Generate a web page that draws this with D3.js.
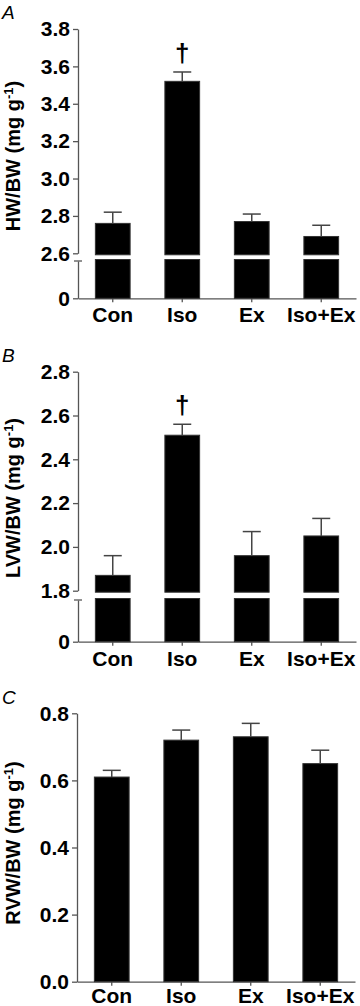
<!DOCTYPE html>
<html>
<head>
<meta charset="utf-8">
<script src="https://cdn.jsdelivr.net/npm/d3@7"></script>
<style>
  body { margin: 0; background: #fff; }
  svg { display: block; }
</style>
</head>
<body>
<script>
// groups
const categories = ['Con', 'Iso', 'Ex', 'Iso+Ex']

// A: heart weight / body weight
const hwMean = [2.76, 3.52, 2.77, 2.69]
const hwSem = [0.06, 0.05, 0.04, 0.06]
const hwTicks = [2.6, 2.8, 3.0, 3.2, 3.4, 3.6, 3.8]

// B: left ventricle weight / body weight
const lvwMean = [1.87, 2.51, 1.96, 2.05]
const lvwSem = [0.09, 0.05, 0.11, 0.08]
const lvwTicks = [1.8, 2.0, 2.2, 2.4, 2.6, 2.8]

// C: right ventricle weight / body weight
const rvwMean = [0.61, 0.72, 0.73, 0.65]
const rvwSem = [0.02, 0.03, 0.04, 0.04]
const rvwTicks = [0.0, 0.2, 0.4, 0.6, 0.8]

// which bars get a dagger
const daggerA = ['Iso']
const daggerB = ['Iso']

const width = 360
const height = 1006
const font = 'Arial, "Liberation Sans", Helvetica, sans-serif'
const axisColor = '#555'

const svg = d3.select('body')
  .append('svg')
  .attr('width', width)
  .attr('height', height)

const panels = [
  { letter: 'A', letterY: 18.5, title: 'HW/BW', titleY: 156, mean: hwMean, sem: hwSem, ticks: hwTicks,
    brk: 2.6, max: 3.8, yTop: 29, yBreak: 253.3, yLow: 261, yZero: 298.3, x0: 78, x1: 356, dagger: daggerA },
  { letter: 'B', letterY: 361.5, title: 'LVW/BW', titleY: 498, mean: lvwMean, sem: lvwSem, ticks: lvwTicks,
    brk: 1.8, max: 2.8, yTop: 371.7, yBreak: 590.7, yLow: 600, yZero: 641.7, x0: 78, x1: 356, dagger: daggerB },
  { letter: 'C', letterY: 703.5, title: 'RVW/BW', titleY: 843, mean: rvwMean, sem: rvwSem, ticks: rvwTicks,
    brk: null, max: 0.8, yTop: 713.3, yZero: 981.7, x0: 77, x1: 355, dagger: [] }
]

function styleAxis(g) {
  g.select('.domain').attr('stroke', axisColor).attr('stroke-width', 1.3)
  g.selectAll('.tick line').attr('stroke', axisColor).attr('stroke-width', 1.3)
  g.selectAll('.tick text')
    .attr('fill', '#000')
    .attr('font-family', font)
    .attr('font-weight', 'bold')
    .attr('font-size', 21)
}

panels.forEach(p => {
  const g = svg.append('g')

  const xScale = d3.scaleBand()
    .domain(categories)
    .range([p.x0, p.x1])
    .paddingInner(0.5)
    .paddingOuter(0.25)

  // upper part of the y axis (or the whole axis when there is no break)
  const yUpper = d3.scaleLinear()
    .domain([p.brk === null ? 0 : p.brk, p.max])
    .range([p.brk === null ? p.yZero : p.yBreak, p.yTop])

  const fmt = d3.format('.1f')

  g.append('g')
    .attr('transform', `translate(${p.x0}, 0)`)
    .call(d3.axisLeft(yUpper).tickValues(p.ticks).tickFormat(fmt).tickSize(5).tickSizeOuter(0).tickPadding(3))
    .call(styleAxis)

  // lower segment below the break
  if (p.brk !== null) {
    const yLower = d3.scaleLinear().domain([0, p.brk]).range([p.yZero, p.yLow])
    const lg = g.append('g')
      .attr('transform', `translate(${p.x0}, 0)`)
      .call(d3.axisLeft(yLower).tickValues([0]).tickFormat(d3.format('d')).tickSize(5).tickSizeOuter(0).tickPadding(3))
      .call(styleAxis)
    lg.append('line')
      .attr('x1', -4).attr('x2', 4)
      .attr('y1', p.yLow).attr('y2', p.yLow)
      .attr('stroke', axisColor).attr('stroke-width', 1.3)
  }

  // x axis
  g.append('g')
    .attr('transform', `translate(0, ${p.yZero})`)
    .call(d3.axisBottom(xScale).tickSize(4).tickSizeOuter(0).tickPadding(p.brk === null ? 2 : 5))
    .call(styleAxis)

  const data = categories.map((c, i) => ({ cat: c, mean: p.mean[i], sem: p.sem[i] }))

  // bars
  const bars = g.append('g')
  if (p.brk === null) {
    bars.selectAll('rect')
      .data(data)
      .enter()
      .append('rect')
      .attr('x', d => xScale(d.cat))
      .attr('width', xScale.bandwidth())
      .attr('y', d => yUpper(d.mean))
      .attr('height', d => p.yZero - yUpper(d.mean))
      .attr('fill', '#000')
      .attr('stroke', '#333')
  } else {
    bars.selectAll('rect.up')
      .data(data)
      .enter()
      .append('rect')
      .attr('class', 'up')
      .attr('x', d => xScale(d.cat))
      .attr('width', xScale.bandwidth())
      .attr('y', d => yUpper(d.mean))
      .attr('height', d => p.yBreak + 1.5 - yUpper(d.mean))
      .attr('fill', '#000')
      .attr('stroke', '#333')
    bars.selectAll('rect.low')
      .data(data)
      .enter()
      .append('rect')
      .attr('class', 'low')
      .attr('x', d => xScale(d.cat))
      .attr('width', xScale.bandwidth())
      .attr('y', p.yLow - 1.5)
      .attr('height', p.yZero - p.yLow + 1.5)
      .attr('fill', '#000')
      .attr('stroke', '#333')
  }

  // error bars (upper only)
  const cx = d => xScale(d.cat) + xScale.bandwidth() / 2
  const err = g.append('g')
    .attr('stroke', '#444')
    .attr('stroke-width', 1.5)
  err.selectAll('line.v')
    .data(data)
    .enter()
    .append('line')
    .attr('x1', cx).attr('x2', cx)
    .attr('y1', d => yUpper(d.mean))
    .attr('y2', d => yUpper(d.mean + d.sem))
  err.selectAll('line.cap')
    .data(data)
    .enter()
    .append('line')
    .attr('x1', d => cx(d) - 9).attr('x2', d => cx(d) + 9)
    .attr('y1', d => yUpper(d.mean + d.sem))
    .attr('y2', d => yUpper(d.mean + d.sem))

  // dagger marks
  g.selectAll('text.dagger')
    .data(data.filter(d => p.dagger.includes(d.cat)))
    .enter()
    .append('text')
    .attr('x', cx)
    .attr('y', d => yUpper(d.mean + d.sem) - 10)
    .attr('text-anchor', 'middle')
    .attr('font-family', font)
    .attr('font-weight', 'bold')
    .attr('font-size', 26)
    .text('\u2020')

  // y axis title
  const title = g.append('text')
    .attr('transform', `translate(19.5, ${p.titleY}) rotate(-90)`)
    .attr('text-anchor', 'middle')
    .attr('font-family', font)
    .attr('font-weight', 'bold')
    .attr('font-size', 20)
  title.append('tspan').text(`${p.title} (mg g`)
  title.append('tspan').attr('font-size', 13).attr('dy', -7).text('-1')
  title.append('tspan').attr('dy', 7).text(')')

  // panel letter
  g.append('text')
    .attr('x', 2)
    .attr('y', p.letterY)
    .attr('font-family', font)
    .attr('font-style', 'italic')
    .attr('font-size', 19)
    .text(p.letter)
})
</script>
</body>
</html>
